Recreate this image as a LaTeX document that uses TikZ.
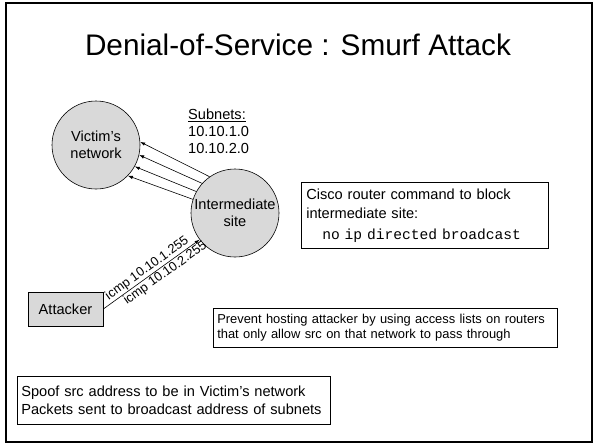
\documentclass[tikz,border=0pt]{standalone}
\usepackage{fontspec}
\setmainfont{Liberation Sans}
\setmonofont{Liberation Mono}
\usetikzlibrary{arrows.meta}
\definecolor{siteg}{HTML}{D9D9D9}
\hyphenpenalty=10000
\exhyphenpenalty=10000
\begin{document}
\begin{tikzpicture}[x=1pt,y=-1pt,
  site/.style={circle, draw, line width=0.6pt, fill=siteg, minimum size=88pt, inner sep=0pt, align=center, font=\fontsize{14.6}{17}\selectfont},
  notebox/.style={draw, line width=0.6pt, anchor=north west, align=left, inner xsep=5pt, inner ysep=0pt},
  flow/.style={line width=0.6pt, -{Latex[length=5pt,width=3.5pt]}},
  lbl/.style={font=\fontsize{12.9}{15}\selectfont, inner sep=1pt, sloped}
]
\useasboundingbox (0,0) rectangle (595,445);
\draw[line width=2.5pt] (6,3) rectangle (592,442);

\node (title) [font=\fontsize{29.75}{34}\selectfont, anchor=base] at (298,55) {Denial-of-Service : Smurf Attack};

\node (victim) [site] at (96,145) {Victim’s\\network};
\node (inter) [site] at (235,213) {Intermediate\\site};

\node (subnets) [anchor=north west, align=left, inner sep=0pt, font=\fontsize{14.6}{17}\selectfont] at (188,109) {\underline{Subnets:}\\10.10.1.0\\10.10.2.0};

\draw[flow] (inter.125) -- (victim.4);
\draw[flow] (inter.138) -- (victim.-13);
\draw[flow] (inter.151) -- (victim.-29);
\draw[flow] (inter.162) -- (victim.-44);

\node (attacker) [draw, line width=0.6pt, fill=siteg, minimum width=75pt, minimum height=34pt, inner sep=0pt, font=\fontsize{14.6}{17}\selectfont] at (65.5,309) {Attacker};

\draw[flow] (attacker.east) -- node[lbl, above, pos=0.5] {icmp 10.10.1.255} node[lbl, below, pos=0.6] {icmp 10.10.2.255} (inter.217);

\node (cisco) [notebox, minimum width=247pt, minimum height=66pt, text width=237pt, font=\fontsize{14.6}{19}\selectfont] at (301,182) {Cisco router command to block\\intermediate site:\\[2pt]\hspace*{16pt}{\ttfamily no ip directed broadcast}};

\node (prevent) [notebox, minimum width=344pt, minimum height=39pt, text width=336pt, inner xsep=4pt, font=\fontsize{12.9}{14.5}\selectfont] at (213,308) {Prevent hosting attacker by using access lists on routers\\that only allow src on that network to pass through};

\node (spoof) [notebox, minimum width=313pt, minimum height=48pt, text width=305pt, inner xsep=4pt, font=\fontsize{14.6}{18}\selectfont] at (17,376) {Spoof src address to be in Victim’s network\\Packets sent to broadcast address of subnets};
\end{tikzpicture}
\end{document}
